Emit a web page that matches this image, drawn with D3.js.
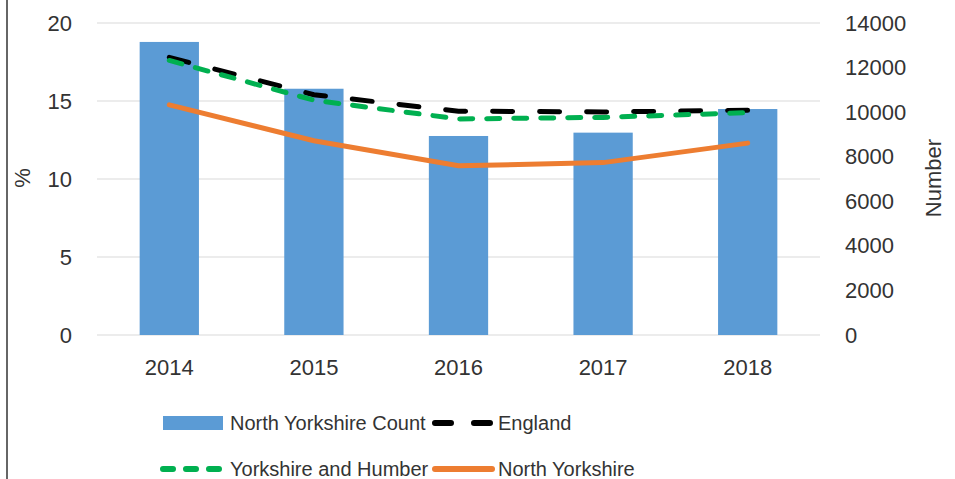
<!DOCTYPE html>
<html>
<head>
<meta charset="utf-8">
<script src="https://cdn.jsdelivr.net/npm/d3@7"></script>
<style>
  body { margin: 0; background: #fff; }
  text { font-family: "Liberation Sans", Arial, sans-serif; fill: #333; }
</style>
</head>
<body>
<svg id="svg1" width="955" height="479"></svg>
<script>
// chart data
const years       = ["2014", "2015", "2016", "2017", "2018"];
const countNY     = [13150, 11050, 8930, 9080, 10140];
const england     = [17.8, 15.4, 14.35, 14.3, 14.4];
const yorksHumber = [17.6, 15.05, 13.85, 13.95, 14.25];
const northYorks  = [14.75, 12.45, 10.85, 11.05, 12.3];
const leftTicks   = [0, 5, 10, 15, 20];
const rightTicks  = [0, 2000, 4000, 6000, 8000, 10000, 12000, 14000];

const svg = d3.select("#svg1"),
      plotL = 97, plotR = 820, plotT = 23, plotB = 335,
      x  = d3.scaleBand().domain(years).range([plotL, plotR]).paddingInner(0.59).paddingOuter(0.295),
      y  = d3.scaleLinear().domain([0, 20]).range([plotB, plotT]),
      y2 = d3.scaleLinear().domain([0, 14000]).range([plotB, plotT]),
      cx = d => x(d) + x.bandwidth() / 2;

svg.append("rect").attr("width", 955).attr("height", 479).attr("fill", "#fff");

// frame edge on the left
svg.append("line")
    .attr("x1", 7).attr("x2", 7).attr("y1", 0).attr("y2", 479)
    .attr("stroke", "#333").attr("stroke-width", 1.5);

// gridlines
svg.append("g")
  .selectAll("line")
  .data(leftTicks)
  .enter().append("line")
    .attr("x1", plotL).attr("x2", plotR)
    .attr("y1", d => y(d)).attr("y2", d => y(d))
    .attr("stroke", "#d9d9d9").attr("stroke-width", 1);

// left axis
const axL = svg.append("g")
    .attr("transform", `translate(${plotL - 25},0)`)
    .call(d3.axisLeft(y).tickValues(leftTicks).tickSize(0).tickPadding(0));
axL.select(".domain").remove();
axL.selectAll("text").style("font-size", "22px").attr("fill", "#333");

// right axis
const axR = svg.append("g")
    .attr("transform", `translate(845,0)`)
    .call(d3.axisRight(y2).tickValues(rightTicks).tickFormat(d3.format("d")).tickSize(0).tickPadding(0));
axR.select(".domain").remove();
axR.selectAll("text").style("font-size", "22px").attr("fill", "#333");

// bottom axis
const axB = svg.append("g")
    .attr("transform", `translate(0,${plotB})`)
    .call(d3.axisBottom(x).tickSize(0).tickPadding(24));
axB.select(".domain").remove();
axB.selectAll("text").style("font-size", "22px").attr("fill", "#333");

// axis titles
svg.append("text")
    .attr("transform", "translate(30,178) rotate(-90)")
    .attr("text-anchor", "middle")
    .style("font-size", "22px")
    .text("%");

svg.append("text")
    .attr("transform", "translate(941,178) rotate(-90)")
    .attr("text-anchor", "middle")
    .style("font-size", "22px")
    .text("Number");

// bars (right axis)
svg.append("g")
  .selectAll(".bar")
  .data(years)
  .enter().append("rect")
    .attr("class", "bar")
    .attr("x", d => x(d))
    .attr("y", (d, i) => y2(countNY[i]))
    .attr("width", x.bandwidth())
    .attr("height", (d, i) => plotB - y2(countNY[i]))
    .attr("fill", "#5b9bd5");

// lines (left axis)
const line = d3.line().x((d, i) => cx(years[i])).y(d => y(d));

svg.append("path")
    .datum(northYorks)
    .attr("d", line)
    .attr("fill", "none")
    .attr("stroke", "#ed7d31")
    .attr("stroke-width", 5)
    .attr("stroke-linecap", "round");

svg.append("path")
    .datum(england)
    .attr("d", line)
    .attr("fill", "none")
    .attr("stroke", "#000")
    .attr("stroke-width", 5)
    .attr("stroke-linecap", "round")
    .attr("stroke-dasharray", "20,27");

svg.append("path")
    .datum(yorksHumber)
    .attr("d", line)
    .attr("fill", "none")
    .attr("stroke", "#00b050")
    .attr("stroke-width", 5)
    .attr("stroke-linecap", "round")
    .attr("stroke-dasharray", "13,14");

// legend
const leg = svg.append("g");

leg.append("rect")
    .attr("x", 163).attr("y", 416).attr("width", 60).attr("height", 14)
    .attr("fill", "#5b9bd5");
leg.append("text").attr("x", 230).attr("y", 423).attr("dy", "0.35em")
    .style("font-size", "20px").text("North Yorkshire Count");

leg.append("line")
    .attr("x1", 435).attr("x2", 492).attr("y1", 423).attr("y2", 423)
    .attr("stroke", "#000").attr("stroke-width", 6)
    .attr("stroke-linecap", "round").attr("stroke-dasharray", "16,23");
leg.append("text").attr("x", 498).attr("y", 423).attr("dy", "0.35em")
    .style("font-size", "20px").text("England");

leg.append("line")
    .attr("x1", 163).attr("x2", 219).attr("y1", 469).attr("y2", 469)
    .attr("stroke", "#00b050").attr("stroke-width", 6)
    .attr("stroke-linecap", "round").attr("stroke-dasharray", "10,13");
leg.append("text").attr("x", 230).attr("y", 469).attr("dy", "0.35em")
    .style("font-size", "20px").text("Yorkshire and Humber");

leg.append("line")
    .attr("x1", 435).attr("x2", 492).attr("y1", 469).attr("y2", 469)
    .attr("stroke", "#ed7d31").attr("stroke-width", 6)
    .attr("stroke-linecap", "round");
leg.append("text").attr("x", 498).attr("y", 469).attr("dy", "0.35em")
    .style("font-size", "20px").text("North Yorkshire");
</script>
</body>
</html>
